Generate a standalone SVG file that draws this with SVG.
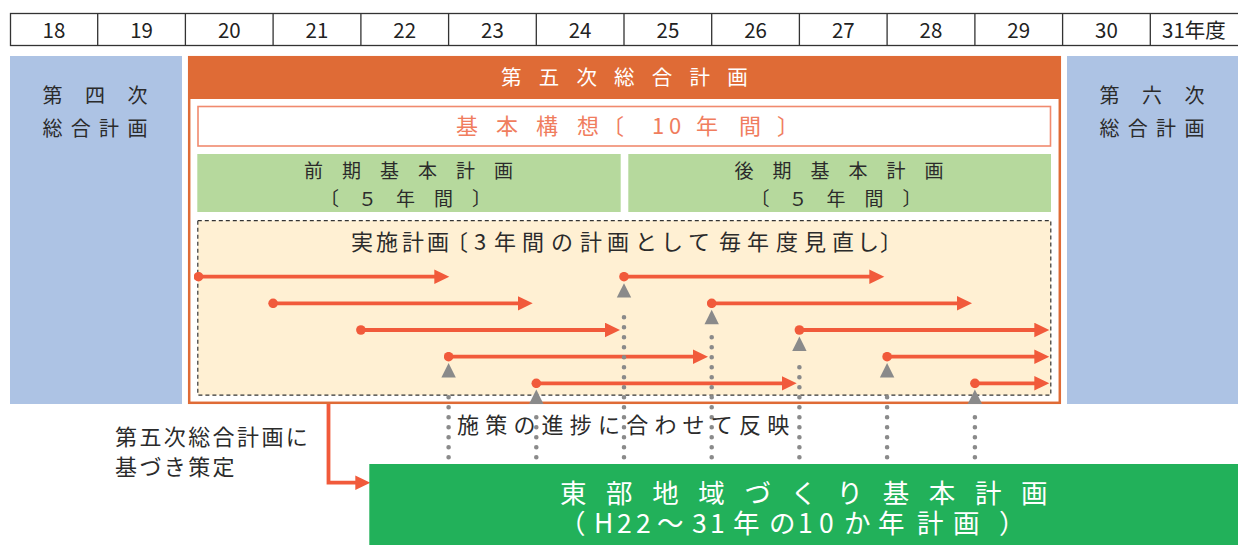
<svg xmlns="http://www.w3.org/2000/svg" width="1238" height="545" viewBox="0 0 1238 545">
<style>
text{font-family:"Noto Sans CJK JP","Noto Sans",sans-serif}
.hdr{font-size:20.5px;fill:#222;text-anchor:middle}
.hl{stroke:#333;stroke-width:1.3}
.blue{fill:#adc3e4}
.dk{fill:#2b2b2b}
.lg{fill:#b6d99d}
.arr{stroke:#f15a3b;stroke-width:3.8;fill:none}
.gtri{fill:#8a8a8a}
.gdot{stroke:#8a8a8a;stroke-width:4.6;stroke-linecap:round;stroke-dasharray:0 10;fill:none}
</style>
<defs>
<marker id="ah" markerUnits="userSpaceOnUse" markerWidth="16" markerHeight="15" refX="7" refY="7.3" orient="auto"><path d="M0,0 L15,7.3 L0,14.6 z" fill="#f15a3b"/></marker>
<marker id="ds" markerUnits="userSpaceOnUse" markerWidth="10" markerHeight="10" refX="5" refY="5" orient="auto"><circle cx="5" cy="5" r="4.8" fill="#f15a3b"/></marker>
</defs>

<g id="year-header">
<rect x="10.5" y="13.5" width="1232" height="32" fill="#fff" class="hl"/>
<path class="hl" d="M97.7,13.5V45.5M185.4,13.5V45.5M273.1,13.5V45.5M360.9,13.5V45.5M448.6,13.5V45.5M536.3,13.5V45.5M624,13.5V45.5M711.7,13.5V45.5M799.4,13.5V45.5M887.1,13.5V45.5M974.9,13.5V45.5M1062.6,13.5V45.5M1150.3,13.5V45.5"/>
<text class="hdr" x="53.9" y="37.5">18</text>
<text class="hdr" x="141.6" y="37.5">19</text>
<text class="hdr" x="229.3" y="37.5">20</text>
<text class="hdr" x="317" y="37.5">21</text>
<text class="hdr" x="404.7" y="37.5">22</text>
<text class="hdr" x="492.4" y="37.5">23</text>
<text class="hdr" x="580.1" y="37.5">24</text>
<text class="hdr" x="667.9" y="37.5">25</text>
<text class="hdr" x="755.6" y="37.5">26</text>
<text class="hdr" x="843.3" y="37.5">27</text>
<text class="hdr" x="931" y="37.5">28</text>
<text class="hdr" x="1018.7" y="37.5">29</text>
<text class="hdr" x="1106.4" y="37.5">30</text>
<text class="hdr" x="1194" y="37.5">31年度</text>
</g>

<g id="plan4">
<rect class="blue" x="10" y="56" width="172" height="348"/>
<text class="dk" x="42.5" y="102.6" font-size="20" letter-spacing="22.5">第四次</text>
<text class="dk" x="42.5" y="135.6" font-size="20" letter-spacing="8.3">総合計画</text>
</g>

<g id="plan6">
<rect class="blue" x="1067" y="56" width="171" height="348"/>
<text class="dk" x="1099.5" y="102.6" font-size="20" letter-spacing="22.5">第六次</text>
<text class="dk" x="1099.5" y="135.6" font-size="20" letter-spacing="8.3">総合計画</text>
</g>

<g id="plan5">
<rect x="189.2" y="57.2" width="870.6" height="345.6" fill="#fff" stroke="#df6b36" stroke-width="2.5"/>
<rect x="188" y="56" width="873" height="43" fill="#df6b36"/>
<text x="501" y="85.3" font-size="20.5" letter-spacing="17.2" fill="#fff">第五次総合計画</text>
</g>

<g id="kihon-koso">
<rect x="198" y="106.5" width="852.5" height="39.5" fill="#fff" stroke="#f08a6e" stroke-width="1.6"/>
<text font-size="22" fill="#f07d5e" y="134.4" x="456 496 536 577 602 652 669 696 739 777">基本構想〔10年間〕</text>
</g>

<g id="zenki">
<rect class="lg" x="197.3" y="154" width="423.4" height="58"/>
<text class="dk" x="304" y="178.2" font-size="19" letter-spacing="19">前期基本計画</text>
<text class="dk" x="320" y="206.4" font-size="19" letter-spacing="19">〔５年間〕</text>
</g>

<g id="koki">
<rect class="lg" x="628.3" y="154" width="422.7" height="58"/>
<text class="dk" x="734.5" y="178.2" font-size="19" letter-spacing="19">後期基本計画</text>
<text class="dk" x="750.5" y="206.4" font-size="19" letter-spacing="19">〔５年間〕</text>
</g>

<g id="jisshi">
<rect x="197.8" y="220.6" width="853" height="174.6" fill="#fff0d3" stroke="#333" stroke-width="1.2" stroke-dasharray="4 3"/>
<text class="dk" font-size="22" y="250" x="351 376 402 427 446 474 494 522 551 580 607 635 661 688 719 747 776 804 832 857 880">実施計画〔3年間の計画として毎年度見直し〕</text>
</g>

<g id="connectors">
<path class="arr" marker-start="url(#ds)" marker-end="url(#ah)" d="M198.5,276.7H441.3"/>
<path class="arr" marker-start="url(#ds)" marker-end="url(#ah)" d="M273.1,303.3H524.7"/>
<path class="arr" marker-start="url(#ds)" marker-end="url(#ah)" d="M360.9,330H612"/>
<path class="arr" marker-start="url(#ds)" marker-end="url(#ah)" d="M448.6,356.7H700"/>
<path class="arr" marker-start="url(#ds)" marker-end="url(#ah)" d="M536.3,383.3H788.7"/>
<path class="arr" marker-start="url(#ds)" marker-end="url(#ah)" d="M624,276.7H876.3"/>
<path class="arr" marker-start="url(#ds)" marker-end="url(#ah)" d="M711.7,303.3H964"/>
<path class="arr" marker-start="url(#ds)" marker-end="url(#ah)" d="M799.4,330H1041.3"/>
<path class="arr" marker-start="url(#ds)" marker-end="url(#ah)" d="M887.1,356.7H1041.3"/>
<path class="arr" marker-start="url(#ds)" marker-end="url(#ah)" d="M974.9,383.3H1041.3"/>

<path class="gdot" d="M448.6,457.3V387.3"/>
<path class="gdot" d="M536.3,457.3V407.3"/>
<path class="gdot" d="M624,457.3V307.3"/>
<path class="gdot" d="M711.7,457.3V327.3"/>
<path class="gdot" d="M799.4,457.3V357.3"/>
<path class="gdot" d="M887.1,457.3V387.3"/>
<path class="gdot" d="M974.9,457.3V407.3"/>
<polygon class="gtri" points="448.6,363 441.4,377.4 455.8,377.4"/>
<polygon class="gtri" points="536.3,389.6 529.1,404 543.5,404"/>
<polygon class="gtri" points="624,283.2 616.8,297.6 631.2,297.6"/>
<polygon class="gtri" points="711.7,309.8 704.5,324.2 718.9,324.2"/>
<polygon class="gtri" points="799.4,336.5 792.2,350.9 806.6,350.9"/>
<polygon class="gtri" points="887.1,363 879.9,377.4 894.3,377.4"/>
<polygon class="gtri" points="974.9,389.6 967.7,404 982.1,404"/>

<path class="arr" marker-end="url(#ah)" d="M328.5,404V482.7H362.3"/>
<text class="dk" x="115" y="445" font-size="22" letter-spacing="2.4">第五次総合計画に</text>
<text class="dk" x="115" y="475" font-size="22" letter-spacing="2.4">基づき策定</text>
<text class="dk" x="457" y="433.4" font-size="22" letter-spacing="6.2">施策の進捗に合わせて反映</text>
</g>

<g id="tobu-plan">
<rect x="369.3" y="464" width="868.7" height="81" fill="#22b15a"/>
<text font-size="26.5" fill="#fff"><tspan x="560" y="502.5" letter-spacing="19.6">東部地域づくり基本計画</tspan><tspan y="532.5" x="559 594 617 636 657 692 710 733 769 798 819 844 878 917 953 999">（H22～31年の10か年計画）</tspan></text>
</g>
</svg>
